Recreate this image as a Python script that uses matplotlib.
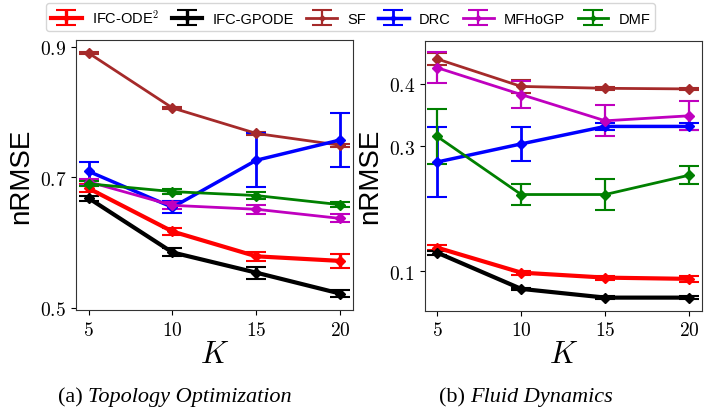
import numpy as np
import matplotlib
matplotlib.use("Agg")
import matplotlib.pyplot as plt

plt.rcParams['mathtext.fontset'] = 'cm'

# data
k_values = [5, 10, 15, 20]
methods = ['IFC-ODE$^2$', 'IFC-GPODE', 'SF', 'DRC', 'MFHoGP', 'DMF']
colors = ['red', 'black', 'brown', 'blue', 'm', 'green']
widths = [3.0, 3.0, 2.0, 2.5, 2.0, 2.0]

# (a) topology optimization
topo_ode2 = [0.683, 0.617, 0.579, 0.572]
topo_ode2_err = [0.006, 0.005, 0.007, 0.011]
topo_gpode = [0.668, 0.585, 0.554, 0.522]
topo_gpode_err = [0.004, 0.006, 0.009, 0.005]
topo_sf = [0.890, 0.806, 0.767, 0.749]
topo_sf_err = [0.002, 0.002, 0.002, 0.002]
topo_drc = [0.709, 0.654, 0.726, 0.757]
topo_drc_err = [0.014, 0.009, 0.041, 0.042]
topo_mfhogp = [0.693, 0.657, 0.651, 0.637]
topo_mfhogp_err = [0.005, 0.005, 0.007, 0.006]
topo_dmf = [0.690, 0.678, 0.672, 0.658]
topo_dmf_err = [0.004, 0.004, 0.005, 0.004]

# (b) fluid dynamics
fluid_ode2 = [0.138, 0.098, 0.090, 0.088]
fluid_ode2_err = [0.004, 0.003, 0.003, 0.005]
fluid_gpode = [0.130, 0.072, 0.058, 0.058]
fluid_gpode_err = [0.003, 0.002, 0.002, 0.002]
fluid_sf = [0.440, 0.396, 0.393, 0.392]
fluid_sf_err = [0.010, 0.010, 0.002, 0.002]
fluid_drc = [0.275, 0.304, 0.332, 0.332]
fluid_drc_err = [0.056, 0.027, 0.006, 0.006]
fluid_mfhogp = [0.426, 0.383, 0.341, 0.349]
fluid_mfhogp_err = [0.025, 0.022, 0.025, 0.023]
fluid_dmf = [0.316, 0.223, 0.223, 0.254]
fluid_dmf_err = [0.044, 0.017, 0.025, 0.014]

topo = [(topo_ode2, topo_ode2_err), (topo_gpode, topo_gpode_err), (topo_sf, topo_sf_err),
        (topo_drc, topo_drc_err), (topo_mfhogp, topo_mfhogp_err), (topo_dmf, topo_dmf_err)]
fluid = [(fluid_ode2, fluid_ode2_err), (fluid_gpode, fluid_gpode_err), (fluid_sf, fluid_sf_err),
         (fluid_drc, fluid_drc_err), (fluid_mfhogp, fluid_mfhogp_err), (fluid_dmf, fluid_dmf_err)]

fig = plt.figure(figsize=(7.04, 4.14), dpi=100)
ax1 = fig.add_axes([0.108, 0.249, 0.393, 0.652])
ax2 = fig.add_axes([0.603, 0.247, 0.394, 0.652])

def draw(ax, series, yticks, ylim):
    handles = []
    for (vals, errs), c, lw, name in zip(series, colors, widths, methods):
        h = ax.errorbar(k_values, vals, yerr=errs, color=c, lw=lw, marker='D', markersize=5.5,
                        capsize=7, capthick=1.5, elinewidth=lw * 0.8, label=name)
        handles.append(h)
    ax.set_xlim(4.25, 20.75)
    ax.set_ylim(*ylim)
    ax.set_xticks(k_values)
    ax.set_xticklabels(['$%d$' % k for k in k_values], fontsize=14)
    ax.set_yticks(yticks)
    ax.set_yticklabels(['$%.1f$' % t for t in yticks], fontsize=14)
    ax.set_xlabel('$K$', fontsize=22, labelpad=0)
    ax.set_ylabel('nRMSE', fontsize=20, family='Liberation Sans', labelpad=4)
    for s in ax.spines.values():
        s.set_color('#333333')
    return handles

handles = draw(ax1, topo, [0.5, 0.7, 0.9], (0.497, 0.91))
draw(ax2, fluid, [0.1, 0.3, 0.4], (0.037, 0.469))

fig.legend(handles, methods, loc='center', bbox_to_anchor=(0.498, 0.957), ncol=6,
           prop={'family': 'Liberation Sans', 'size': 10.5},
           handlelength=2.1, columnspacing=0.85, handletextpad=0.7, borderpad=0.35,
           markerscale=0.5)

cap = dict(va='center', fontsize=16, family='Liberation Serif')
fig.text(0.125, 0.039, '(a) ', ha='right', **cap)
fig.text(0.125, 0.039, 'Topology Optimization', ha='left', style='italic', **cap)
fig.text(0.668, 0.039, '(b) ', ha='right', **cap)
fig.text(0.668, 0.039, 'Fluid Dynamics', ha='left', style='italic', **cap)

fig.savefig('out.png', dpi=100)
